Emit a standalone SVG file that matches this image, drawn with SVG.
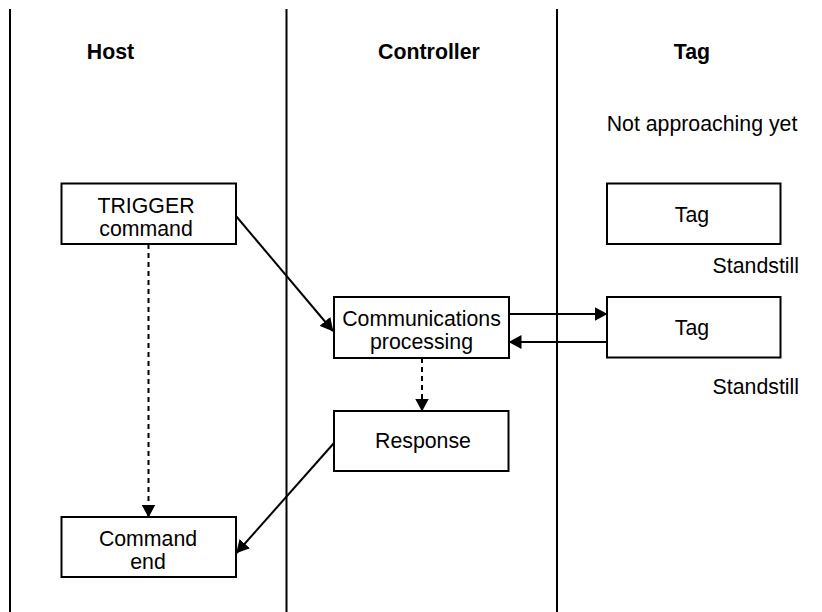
<svg xmlns="http://www.w3.org/2000/svg" width="822" height="612" viewBox="0 0 822 612">
  <style>
    .lane { stroke: #000; stroke-width: 2; fill: none; }
    .box { fill: #fff; stroke: #000; stroke-width: 2; }
    .t { font-family: "Liberation Sans", Arial, sans-serif; font-size: 21.3px; fill: #000; text-anchor: middle; }
    .h { font-weight: bold; }
    .conn { stroke: #000; stroke-width: 2; fill: none; marker-end: url(#arrow); }
    .dash { stroke-dasharray: 5 4; }
  </style>
  <defs>
    <marker id="arrow" markerUnits="userSpaceOnUse" markerWidth="13" markerHeight="14" refX="12.5" refY="7" orient="auto">
      <path d="M0,0 L13,7 L0,14 z" fill="#000"/>
    </marker>
  </defs>
  <rect width="822" height="612" fill="#fff"/>

  <g id="lanes">
    <line class="lane" x1="10" y1="9" x2="10" y2="612"/>
    <line class="lane" x1="286.5" y1="9" x2="286.5" y2="612"/>
    <line class="lane" x1="557" y1="9" x2="557" y2="612"/>
  </g>

  <g id="headers">
    <text class="t h" x="110.5" y="59">Host</text>
    <text class="t h" x="429" y="59">Controller</text>
    <text class="t h" x="692" y="59">Tag</text>
  </g>

  <g id="labels">
    <text class="t" x="702" y="131">Not approaching yet</text>
    <text class="t" x="799" y="273" style="text-anchor:end">Standstill</text>
    <text class="t" x="799" y="394" style="text-anchor:end">Standstill</text>
  </g>

  <g id="connectors">
    <line class="conn" x1="236" y1="216" x2="333" y2="331"/>
    <line class="conn dash" x1="148.5" y1="244" x2="148.5" y2="517"/>
    <line class="conn" x1="509" y1="314" x2="607" y2="314"/>
    <line class="conn" x1="607" y1="342" x2="509" y2="342"/>
    <line class="conn dash" x1="422" y1="358" x2="422" y2="411"/>
    <line class="conn" x1="334" y1="443" x2="236.5" y2="553"/>
  </g>

  <g id="trigger">
    <rect class="box" x="61.5" y="183.5" width="174.5" height="60.5"/>
    <text class="t" x="146" y="213">TRIGGER<tspan x="146" dy="22.5">command</tspan></text>
  </g>

  <g id="comm">
    <rect class="box" x="334" y="297" width="175" height="61"/>
    <text class="t" x="421.5" y="325.5">Communications<tspan x="421.5" dy="23.5">processing</tspan></text>
  </g>

  <g id="response">
    <rect class="box" x="334" y="411" width="174.5" height="60"/>
    <text class="t" x="423" y="448">Response</text>
  </g>

  <g id="cmdend">
    <rect class="box" x="61.5" y="517" width="174.5" height="60"/>
    <text class="t" x="148" y="546">Command<tspan x="148" dy="22.5">end</tspan></text>
  </g>

  <g id="tag1">
    <rect class="box" x="607" y="183.5" width="173.5" height="60.5"/>
    <text class="t" x="692" y="221.5">Tag</text>
  </g>

  <g id="tag2">
    <rect class="box" x="607" y="297" width="173.5" height="60.5"/>
    <text class="t" x="692" y="335">Tag</text>
  </g>
</svg>
